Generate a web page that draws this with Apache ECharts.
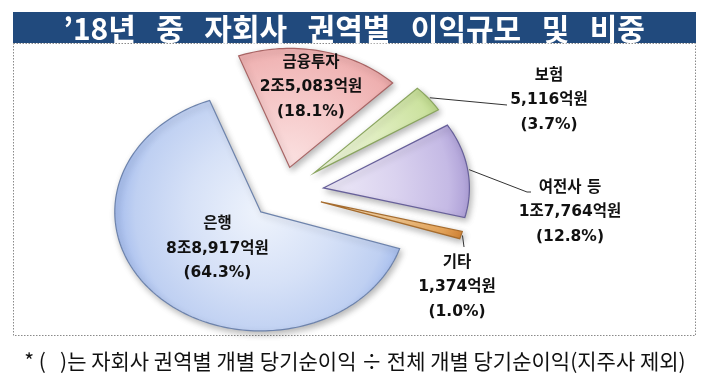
<!DOCTYPE html>
<html><head><meta charset="utf-8">
<script src="https://cdn.jsdelivr.net/npm/echarts@6/dist/echarts.min.js"></script>
<style>html,body{margin:0;padding:0;background:#fff}#c{width:708px;height:386px}</style>
</head><body><div id="c"></div>
<script>
// ---- data ----
const titleText = '’18년   중   자회사   권역별   이익규모   및   비중';
const footnoteText = '* (   )는 자회사 권역별 개별 당기순이익 ÷ 전체 개별 당기순이익(지주사 제외)';
const categories = ['금융투자', '보험', '여전사 등', '기타', '은행'];
const profits = [25083, 5116, 17764, 1374, 88917]; // 억원

// ---- style ----
const START_DEG = 339.5; // clockwise from 12 o'clock
const explode = [0.22, 0.275, 0.28, 0.27, 0.22];
const palette = [
  {stops: ['#fbe2e2', '#f5c6c6', '#eeaeae', '#e19494'], stroke: '#a86464'},
  {stops: ['#f2f8e2', '#e0eec0', '#cce2a0', '#b4d27e'], stroke: '#8aa55f'},
  {stops: ['#eeeaf8', '#dad2ef', '#c5bae5', '#ad9fd6'], stroke: '#67609a'},
  {stops: ['#fde6c6', '#f8cc92', '#eda95c', '#d78636'], stroke: '#a66c2e'},
  {stops: ['#eef3fc', '#d6e1f7', '#bfd0f2', '#a5bced'], stroke: '#6d83ac'}
];
const labelCfg = [
  {inside: 0.69},
  {at: [549, 100], line: [[507, 105]]},
  {at: [570, 212], line: [[527, 192], [531, 192]]},
  {at: [457, 287], line: [[464, 247]]},
  {inside: 0.43}
];
const labelFont = 'bold 15.5px "DejaVu Sans", "Noto Sans CJK KR", sans-serif';

const total = profits.reduce((a, b) => a + b, 0);
function fmtAmount(v) {
  const jo = Math.floor(v / 10000), r = v % 10000;
  let rs;
  if (jo > 0) { const p = String(r).padStart(4, '0'); rs = p[0] + ',' + p.slice(1); }
  else rs = r.toLocaleString('en-US');
  return (jo > 0 ? jo + '조' : '') + rs + '억원';
}
function labelText(i) {
  return categories[i] + '\n' + fmtAmount(profits[i]) + '\n(' + (profits[i] / total * 100).toFixed(1) + '%)';
}

function renderItem(params, api) {
  const i = params.dataIndex;
  let cum = 0; for (let j = 0; j < i; j++) cum += profits[j];
  const v = api.value(2);
  const a0 = (START_DEG + cum / total * 360) * Math.PI / 180;
  const a1 = a0 + v / total * 2 * Math.PI;
  const am = (a0 + a1) / 2;
  const k = explode[i];
  const ox = k * Math.sin(am), oy = k * Math.cos(am);
  const c = api.coord([ox, oy]);
  const pts = [c];
  const n = Math.max(6, Math.ceil((a1 - a0) / (Math.PI / 120)));
  for (let s = 0; s <= n; s++) {
    const a = a0 + (a1 - a0) * s / n;
    pts.push(api.coord([ox + Math.sin(a), oy + Math.cos(a)]));
  }
  const rpx = api.size([1, 0])[0];
  const pal = palette[i];
  const children = [{
    type: 'polygon',
    shape: {points: pts},
    style: {
      fill: {type: 'radial', x: c[0], y: c[1], r: rpx, global: true,
        colorStops: [{offset: 0, color: pal.stops[0]}, {offset: 0.5, color: pal.stops[1]},
                     {offset: 0.86, color: pal.stops[2]}, {offset: 1, color: pal.stops[3]}]},
      stroke: pal.stroke, lineWidth: 1.2,
      shadowBlur: 6, shadowOffsetX: 2, shadowOffsetY: 3, shadowColor: 'rgba(0,0,0,0.28)'
    }
  }];
  const cfg = labelCfg[i];
  let lp;
  if (cfg.inside) {
    lp = api.coord([ox + cfg.inside * Math.sin(am), oy + cfg.inside * Math.cos(am)]);
  } else {
    lp = cfg.at;
    const st = api.coord([ox + 1.01 * Math.sin(am), oy + 1.01 * Math.cos(am)]);
    children.push({type: 'polyline', z2: 50, shape: {points: [st].concat(cfg.line)},
      style: {stroke: '#333', lineWidth: 1, fill: null}});
  }
  children.push({
    type: 'text', z2: 100,
    style: {text: labelText(i), x: lp[0], y: lp[1], fill: '#111', font: labelFont,
      align: 'center', verticalAlign: 'middle', textAlign: 'center', textVerticalAlign: 'middle', lineHeight: 24.5}
  });
  return {type: 'group', children};
}

const chart = echarts.init(document.getElementById('c'), null, {renderer: 'canvas'});
chart.setOption({
  backgroundColor: '#fff',
  animation: false,
  grid: {left: 137, top: 74, width: 292, height: 238},
  xAxis: {type: 'value', min: -1, max: 1, show: false},
  yAxis: {type: 'value', min: -1, max: 1, show: false},
  graphic: [
    {type: 'rect', shape: {x: 13.5, y: 43.5, width: 682, height: 292}, z: 0,
      style: {fill: 'none', stroke: '#8a8a8a', lineWidth: 1, lineDash: [1.5, 1.5]}},
    {type: 'rect', shape: {x: 13, y: 12, width: 683, height: 31}, z: 1, style: {fill: '#214a7d'}},
    {type: 'text', x: 354, y: 29, z: 2, style: {text: titleText, fill: '#fff',
      font: 'bold 30px "Noto Sans CJK KR", sans-serif', align: 'center', verticalAlign: 'middle'}},
    {type: 'text', x: 355, y: 361, z: 2, style: {text: footnoteText, fill: '#111',
      font: '21px "Noto Sans CJK KR", sans-serif', align: 'center', verticalAlign: 'middle'}}
  ],
  series: [{
    type: 'custom',
    coordinateSystem: 'cartesian2d',
    renderItem,
    clip: false,
    encode: {x: 0, y: 1},
    data: profits.map((v, i) => ({name: categories[i], value: [0, 0, v]}))
  }]
});
</script></body></html>
